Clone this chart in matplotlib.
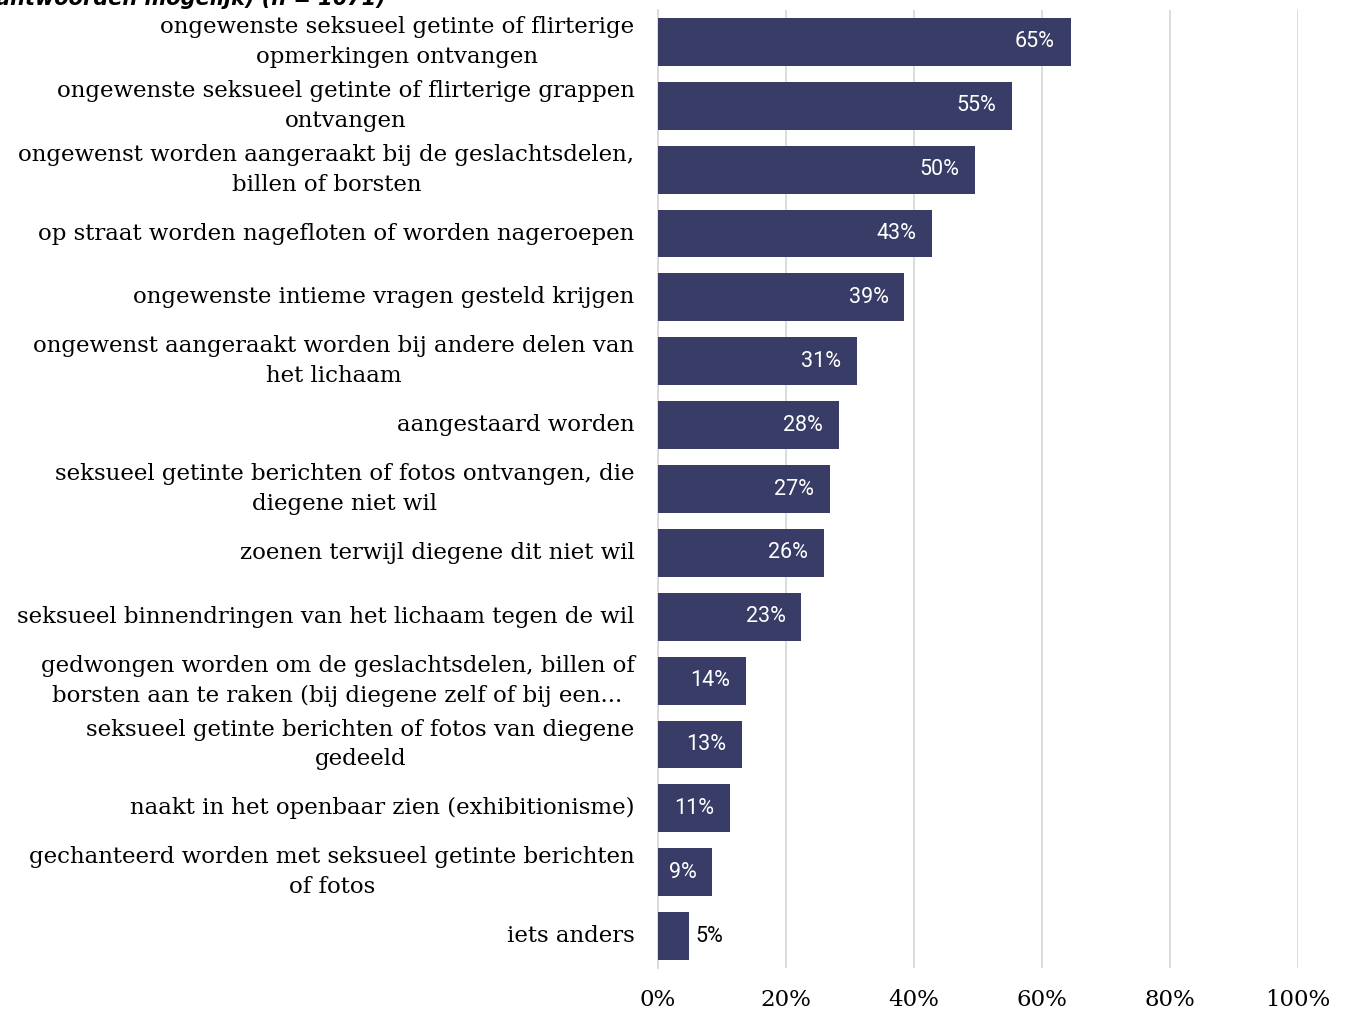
import matplotlib
matplotlib.use('Agg')
from matplotlib import pyplot as plt
from matplotlib.transforms import offset_copy
import numpy as np

labels = [
    'ongewenste seksueel getinte of flirterige\nopmerkingen ontvangen',
    'ongewenste seksueel getinte of flirterige grappen\nontvangen',
    'ongewenst worden aangeraakt bij de geslachtsdelen,\nbillen of borsten',
    'op straat worden nagefloten of worden nageroepen',
    'ongewenste intieme vragen gesteld krijgen',
    'ongewenst aangeraakt worden bij andere delen van\nhet lichaam',
    'aangestaard worden',
    'seksueel getinte berichten of fotos ontvangen, die\ndiegene niet wil',
    'zoenen terwijl diegene dit niet wil',
    'seksueel binnendringen van het lichaam tegen de wil',
    'gedwongen worden om de geslachtsdelen, billen of\nborsten aan te raken (bij diegene zelf of bij een...',
    'seksueel getinte berichten of fotos van diegene\ngedeeld',
    'naakt in het openbaar zien (exhibitionisme)',
    'gechanteerd worden met seksueel getinte berichten\nof fotos',
    'iets anders',
]
values = [0.645, 0.553, 0.495, 0.428, 0.385, 0.311, 0.283, 0.269, 0.259, 0.224,
          0.138, 0.131, 0.113, 0.085, 0.048]
value_text = ['65%', '55%', '50%', '43%', '39%', '31%', '28%', '27%', '26%', '23%',
              '14%', '13%', '11%', '9%', '5%']
xticks = [0, 0.2, 0.4, 0.6, 0.8, 1.0]
xticklabels = ['0%', '20%', '40%', '60%', '80%', '100%']
title = 'antwoorden mogelijk) (n = 1671)'

bar_color = '#383c66'
grid_color = '#d9d9d9'
serif = 'DejaVu Serif'

fig = plt.figure(figsize=(13.46, 10.11), dpi=100)
ax = fig.add_axes([0.4889, 0.0425, 0.4755, 0.9476])

y = np.arange(len(values))
ax.barh(y, values, height=0.75, color=bar_color, zorder=3)
ax.set_ylim(len(values) - 0.5, -0.5)
ax.set_xlim(0, 1)

ax.set_xticks(xticks)
ax.set_xticklabels(xticklabels, family=serif, fontsize=16.5)
ax.xaxis.grid(True, color=grid_color, lw=1.3, zorder=0)
ax.tick_params(axis='x', length=0, pad=15)
ax.tick_params(axis='y', length=0, pad=17)
ax.set_yticks(y)
ax.set_yticklabels(labels, family=serif, fontsize=16.5, multialignment='center',
                   linespacing=1.45, va='center')
for s in ['top', 'right', 'bottom']:
    ax.spines[s].set_visible(False)
ax.spines['left'].set_color(grid_color)
ax.spines['left'].set_linewidth(1.3)

inside = offset_copy(ax.transData, fig=fig, x=-16, y=0, units='dots')
outside = offset_copy(ax.transData, fig=fig, x=7, y=0, units='dots')
for yi, v, t in zip(y, values, value_text):
    if v >= 0.08:
        ax.text(v, yi, t, transform=inside, ha='right', va='center',
                color='white', family='Roboto', fontsize=15.5, zorder=4)
    else:
        ax.text(v, yi, t, transform=outside, ha='left', va='center',
                color='black', family='Roboto', fontsize=15.5, zorder=4)

fig.text(-0.003, 1.011, title, ha='left', va='top', fontsize=15,
         weight='bold', style='italic', family='DejaVu Sans')

fig.savefig('out.png', dpi=100)
